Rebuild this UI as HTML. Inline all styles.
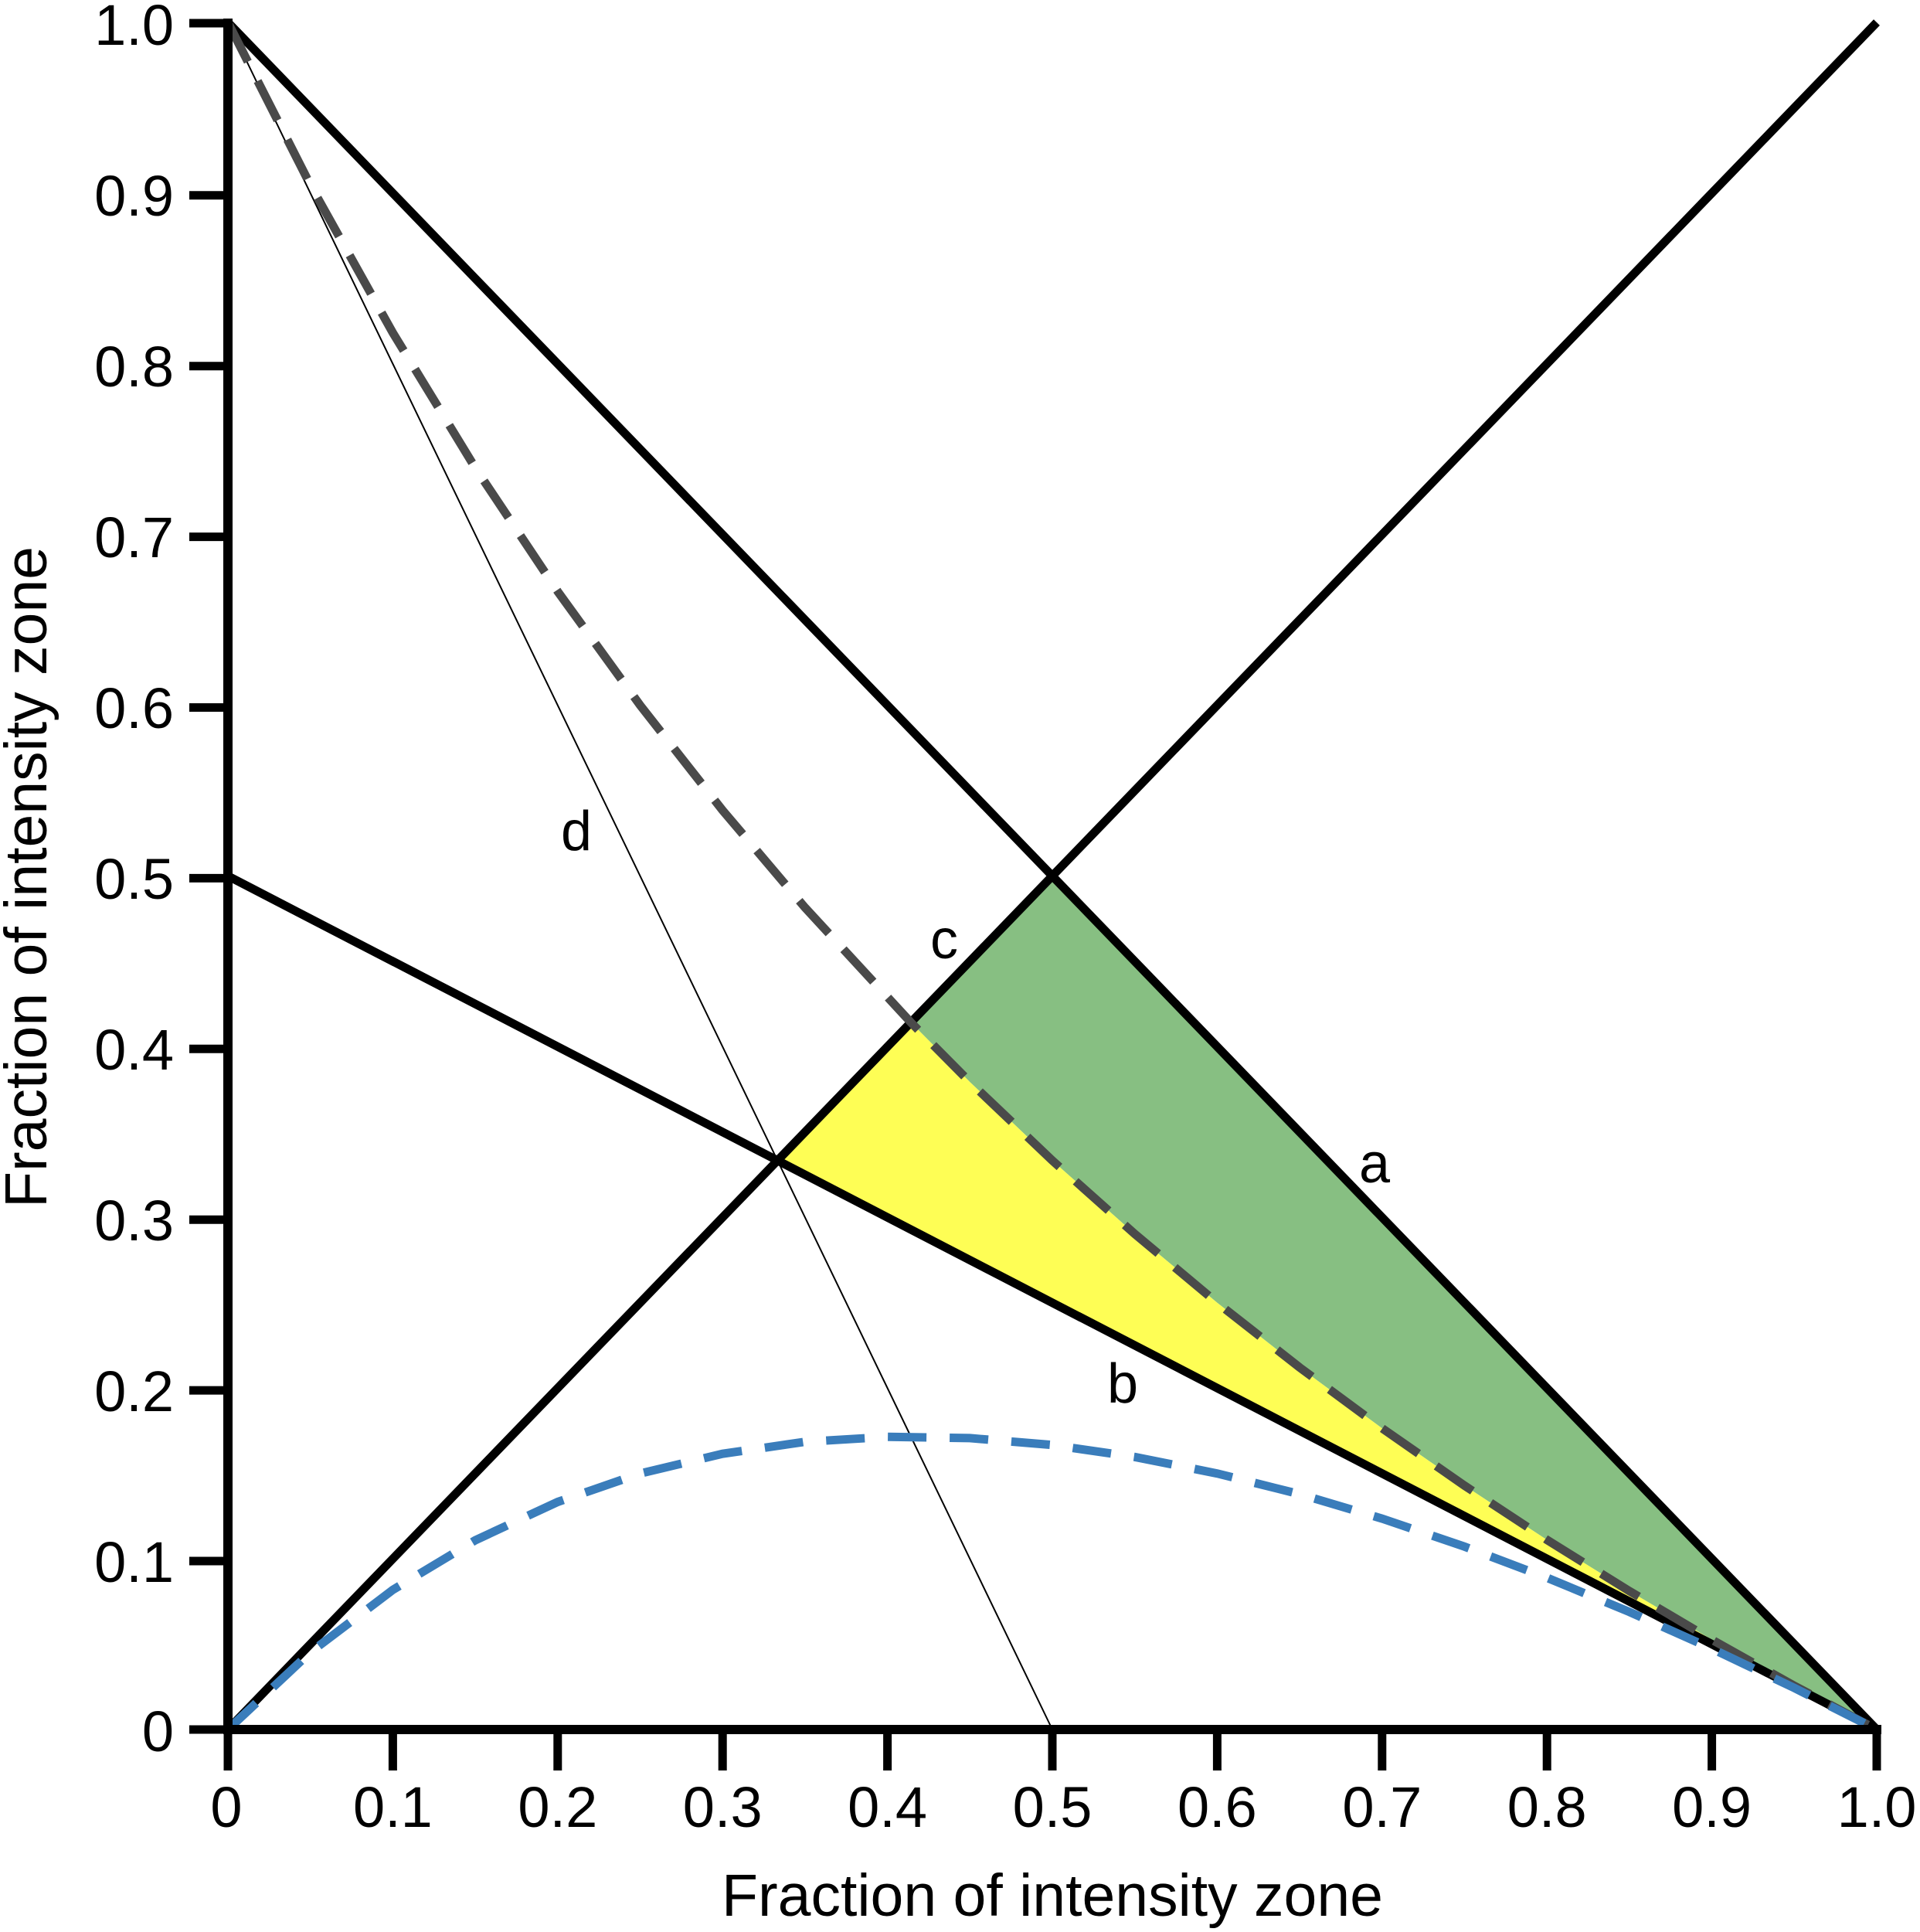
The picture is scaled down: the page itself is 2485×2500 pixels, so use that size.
<!DOCTYPE html>
<html><head><meta charset="utf-8"><style>
html,body{margin:0;padding:0;background:#fff;}
svg{display:block;}
text{font-family:"Liberation Sans",Arial,sans-serif;fill:#000;}
</style></head><body>
<svg width="2485" height="2500" viewBox="0 0 2485 2500" xmlns="http://www.w3.org/2000/svg">
<polygon fill="#87bf82" points="1178.9,1323 1362,1133.5 2429,2238 2322.3,2181.4 2215.6,2121.8 2108.9,2058.9 2002.2,1992.6 1895.5,1922.4 1788.8,1848.2 1682.1,1769.5 1575.4,1685.8 1468.7,1596.7 1362,1501.7 1255.3,1400.1"/>
<polygon fill="#fefe55" points="1006.3,1501.7 1178.9,1323 1255.3,1400.1 1362,1501.7 1468.7,1596.7 1575.4,1685.8 1682.1,1769.5 1788.8,1848.2 1895.5,1922.4 2002.2,1992.6 2108.9,2058.9 2215.6,2121.8 2322.3,2181.4 2429,2238"/>
<line x1="295" y1="29" x2="1362" y2="2238" stroke="#000" stroke-width="2"/>
<g stroke="#000" stroke-width="11" fill="none">
<line x1="295" y1="29" x2="2429" y2="2238"/>
<line x1="295" y1="2238" x2="2429" y2="29"/>
<line x1="295" y1="1133.5" x2="2429" y2="2238"/>
</g>
<polyline fill="none" stroke="#4a4a4a" stroke-width="11" stroke-dasharray="57 28" points="295,29 401.7,239.3 508.4,430.6 615.1,605.3 721.8,765.3 828.5,912.6 935.2,1048.5 1041.9,1174.4 1178.9,1323 1255.3,1400.1 1362,1501.7 1468.7,1596.7 1575.4,1685.8 1682.1,1769.5 1788.8,1848.2 1895.5,1922.4 2002.2,1992.6 2108.9,2058.9 2215.6,2121.8 2322.3,2181.4 2429,2238"/>
<polyline fill="none" stroke="#3a7dbb" stroke-width="11" stroke-dasharray="50 30" points="295,2238 401.7,2138.1 508.4,2057.3 615.1,1993.1 721.8,1943.5 828.5,1906.7 935.2,1881.2 1041.9,1865.7 1148.6,1859.3 1255.3,1860.9 1362,1869.8 1468.7,1885.3 1575.4,1906.7 1682.1,1933.4 1788.8,1965.1 1895.5,2001.3 2002.2,2041.6 2108.9,2085.8 2215.6,2133.4 2322.3,2184.2 2429,2238"/>
<g stroke="#000" stroke-width="12">
<line x1="295" y1="24" x2="295" y2="2244"/>
<line x1="289" y1="2238" x2="2435" y2="2238"/>
</g>
<g stroke="#000" stroke-width="11">
<line x1="245" y1="30" x2="295" y2="30"/>
<line x1="245" y1="252.8" x2="295" y2="252.8"/>
<line x1="245" y1="473.7" x2="295" y2="473.7"/>
<line x1="245" y1="694.6" x2="295" y2="694.6"/>
<line x1="245" y1="915.5" x2="295" y2="915.5"/>
<line x1="245" y1="1136.4" x2="295" y2="1136.4"/>
<line x1="245" y1="1357.3" x2="295" y2="1357.3"/>
<line x1="245" y1="1578.2" x2="295" y2="1578.2"/>
<line x1="245" y1="1799.1" x2="295" y2="1799.1"/>
<line x1="245" y1="2020" x2="295" y2="2020"/>
<line x1="245" y1="2238" x2="295" y2="2238"/>
<line x1="295" y1="2238" x2="295" y2="2291"/>
<line x1="508.4" y1="2238" x2="508.4" y2="2291"/>
<line x1="721.8" y1="2238" x2="721.8" y2="2291"/>
<line x1="935.2" y1="2238" x2="935.2" y2="2291"/>
<line x1="1148.6" y1="2238" x2="1148.6" y2="2291"/>
<line x1="1362" y1="2238" x2="1362" y2="2291"/>
<line x1="1575.4" y1="2238" x2="1575.4" y2="2291"/>
<line x1="1788.8" y1="2238" x2="1788.8" y2="2291"/>
<line x1="2002.2" y1="2238" x2="2002.2" y2="2291"/>
<line x1="2215.6" y1="2238" x2="2215.6" y2="2291"/>
<line x1="2429" y1="2238" x2="2429" y2="2291"/>
</g>
<g font-size="74" text-anchor="end">
<text x="225" y="58">1.0</text>
<text x="225" y="279">0.9</text>
<text x="225" y="500">0.8</text>
<text x="225" y="721">0.7</text>
<text x="225" y="942">0.6</text>
<text x="225" y="1163">0.5</text>
<text x="225" y="1384">0.4</text>
<text x="225" y="1605">0.3</text>
<text x="225" y="1826">0.2</text>
<text x="225" y="2047">0.1</text>
<text x="225" y="2266">0</text>
</g>
<g font-size="74" text-anchor="middle">
<text x="293" y="2364">0</text>
<text x="508.4" y="2364">0.1</text>
<text x="721.8" y="2364">0.2</text>
<text x="935.2" y="2364">0.3</text>
<text x="1148.6" y="2364">0.4</text>
<text x="1362" y="2364">0.5</text>
<text x="1575.4" y="2364">0.6</text>
<text x="1788.8" y="2364">0.7</text>
<text x="2002.2" y="2364">0.8</text>
<text x="2215.6" y="2364">0.9</text>
<text x="2429" y="2364">1.0</text>
</g>
<g font-size="77" text-anchor="middle">
<text x="1362" y="2479">Fraction of intensity zone</text>
<text transform="translate(60,1135) rotate(-90)">Fraction of intensity zone</text>
</g>
<g font-size="72" text-anchor="middle">
<text x="746" y="1100">d</text>
<text x="1222" y="1240">c</text>
<text x="1779" y="1530">a</text>
<text x="1453" y="1815">b</text>
</g>
</svg>
</body></html>
